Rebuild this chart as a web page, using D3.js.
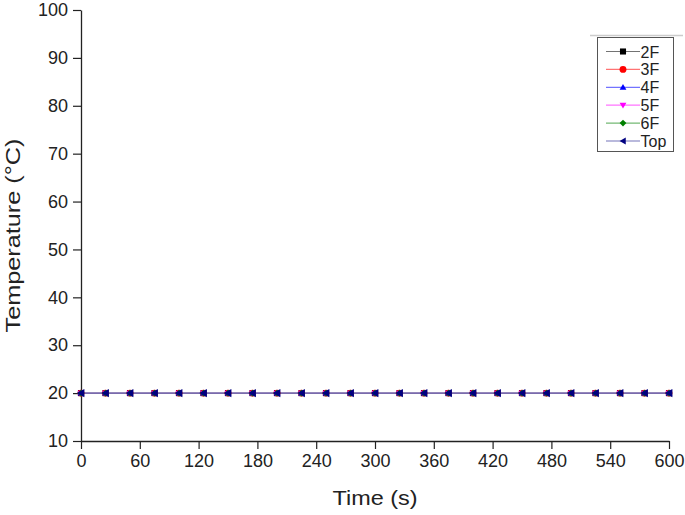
<!DOCTYPE html>
<html>
<head>
<meta charset="utf-8">
<script src="https://cdn.jsdelivr.net/npm/d3@7"></script>
<style>
  body { margin: 0; background: #fff; }
  svg text { font-family: "Liberation Sans", Arial, sans-serif; fill: #222; }
</style>
</head>
<body>
<div id="chart"></div>
<script>
// data: sampled every 25 s, all sensors sit at 20 °C
const times = [0, 25, 50, 75, 100, 125, 150, 175, 200, 225, 250, 275, 300,
               325, 350, 375, 400, 425, 450, 475, 500, 525, 550, 575, 600];
const temp2F  = [20, 20, 20, 20, 20, 20, 20, 20, 20, 20, 20, 20, 20, 20, 20, 20, 20, 20, 20, 20, 20, 20, 20, 20, 20];
const temp3F  = [20, 20, 20, 20, 20, 20, 20, 20, 20, 20, 20, 20, 20, 20, 20, 20, 20, 20, 20, 20, 20, 20, 20, 20, 20];
const temp4F  = [20, 20, 20, 20, 20, 20, 20, 20, 20, 20, 20, 20, 20, 20, 20, 20, 20, 20, 20, 20, 20, 20, 20, 20, 20];
const temp5F  = [20, 20, 20, 20, 20, 20, 20, 20, 20, 20, 20, 20, 20, 20, 20, 20, 20, 20, 20, 20, 20, 20, 20, 20, 20];
const temp6F  = [20, 20, 20, 20, 20, 20, 20, 20, 20, 20, 20, 20, 20, 20, 20, 20, 20, 20, 20, 20, 20, 20, 20, 20, 20];
const tempTop = [20, 20, 20, 20, 20, 20, 20, 20, 20, 20, 20, 20, 20, 20, 20, 20, 20, 20, 20, 20, 20, 20, 20, 20, 20];
const seriesNames = ['2F', '3F', '4F', '5F', '6F', 'Top'];
const xTicks = [0, 60, 120, 180, 240, 300, 360, 420, 480, 540, 600];
const yTicks = [10, 20, 30, 40, 50, 60, 70, 80, 90, 100];

const colors = ['#000000', '#ff0000', '#0000ff', '#ff00ff', '#008000', '#000080'];
const symbols = [d3.symbolSquare, d3.symbolCircle, 'triUp', 'triDown', 'diamond', 'triLeft'];

const series = [temp2F, temp3F, temp4F, temp5F, temp6F, tempTop].map((vals, i) => ({
    name: seriesNames[i],
    color: colors[i],
    symbol: symbols[i],
    points: times.map((t, j) => ({t: t, v: vals[j]}))
}));

const width = 685, height = 515;
const margin = {top: 10, right: 16, bottom: 74, left: 81};

const svg = d3.select('#chart')
    .append('svg')
    .attr('width', width)
    .attr('height', height);

const x = d3.scaleLinear().domain([0, 600]).range([margin.left, width - margin.right]);
const y = d3.scaleLinear().domain([10, 100]).range([height - margin.bottom, margin.top]);

// marker path builder
function markerPath(sym, s) {
    if (sym === 'triUp') return `M0,${-s}L${s},${s * 0.7}L${-s},${s * 0.7}Z`;
    if (sym === 'triDown') return `M0,${s}L${s},${-s * 0.7}L${-s},${-s * 0.7}Z`;
    if (sym === 'triLeft') return `M${-s},0L${s * 0.8},${-s}L${s * 0.8},${s}Z`;
    if (sym === 'diamond') return `M0,${-s}L${s},0L0,${s}L${-s},0Z`;
    return d3.symbol().type(sym).size(s * s * 3.2)();
}

// axes
const xAxis = svg.append('g')
    .attr('transform', `translate(0,${y(10)})`);
xAxis.call(d3.axisBottom(x).tickValues(d3.range(30, 600, 60)).tickSize(4).tickFormat(''));
xAxis.call(d3.axisBottom(x).tickValues(xTicks).tickSize(8).tickSizeOuter(0).tickPadding(5));

const yAxis = svg.append('g')
    .attr('transform', `translate(${x(0)},0)`);
yAxis.call(d3.axisLeft(y).tickValues(d3.range(15, 100, 10)).tickSize(4).tickFormat(''));
yAxis.call(d3.axisLeft(y).tickValues(yTicks).tickSize(8).tickSizeOuter(0).tickPadding(5));

svg.selectAll('.domain').attr('stroke', '#222').attr('stroke-width', 1.3);
svg.selectAll('.tick line').attr('stroke', '#222').attr('stroke-width', 1.2);
svg.selectAll('.tick text').style('font-size', '18px').attr('fill', '#222');

// axis titles
svg.append('text')
    .attr('x', (x(0) + x(600)) / 2)
    .attr('y', 505)
    .attr('text-anchor', 'middle')
    .attr('textLength', 85)
    .attr('lengthAdjust', 'spacingAndGlyphs')
    .style('font-size', '21px')
    .text('Time (s)');

svg.append('text')
    .attr('transform', `translate(20,${(y(10) + y(100)) / 2 + 10}) rotate(-90)`)
    .attr('text-anchor', 'middle')
    .attr('textLength', 194)
    .attr('lengthAdjust', 'spacingAndGlyphs')
    .style('font-size', '21px')
    .text('Temperature (°C)');

// lines
const line = d3.line().x((d) => x(d.t)).y((d) => y(d.v));
series.forEach((s, i) => {
    svg.append('path')
        .datum(s.points)
        .attr('fill', 'none')
        .attr('stroke', s.color)
        .attr('stroke-opacity', i === 5 ? 0.4 : 0.08)
        .attr('stroke-width', 1.6)
        .attr('d', line);
});

// markers
series.forEach((s, i) => {
    svg.append('g')
        .selectAll('path')
        .data(s.points)
        .enter()
        .append('path')
        .attr('transform', (d) => `translate(${x(d.t)},${y(d.v)})`)
        .attr('d', markerPath(s.symbol, i === 5 ? 4.2 : 3.4))
        .attr('fill', s.color);
});

// legend
svg.append('line')
    .attr('x1', 590).attr('x2', 683).attr('y1', 35.5).attr('y2', 35.5)
    .attr('stroke', '#ccc').attr('stroke-width', 1.5);

const legend = svg.append('g');
legend.append('rect')
    .attr('x', 597.5).attr('y', 37.5)
    .attr('width', 76).attr('height', 114)
    .attr('fill', '#fff')
    .attr('stroke', '#555')
    .attr('stroke-width', 1);

const row = legend.selectAll('g')
    .data(series)
    .enter()
    .append('g')
    .attr('transform', (d, i) => `translate(0,${51.5 + i * 17.9})`);
row.append('line')
    .attr('x1', 606).attr('x2', 640)
    .attr('stroke', (d) => d.color)
    .attr('stroke-opacity', 0.55)
    .attr('stroke-width', 1.2);
row.append('path')
    .attr('transform', 'translate(623,0)')
    .attr('d', (d) => markerPath(d.symbol, 3.4))
    .attr('fill', (d) => d.color);
row.append('text')
    .attr('x', 640.5)
    .attr('y', 6)
    .style('font-size', '16px')
    .text((d) => d.name);
</script>
</body>
</html>
